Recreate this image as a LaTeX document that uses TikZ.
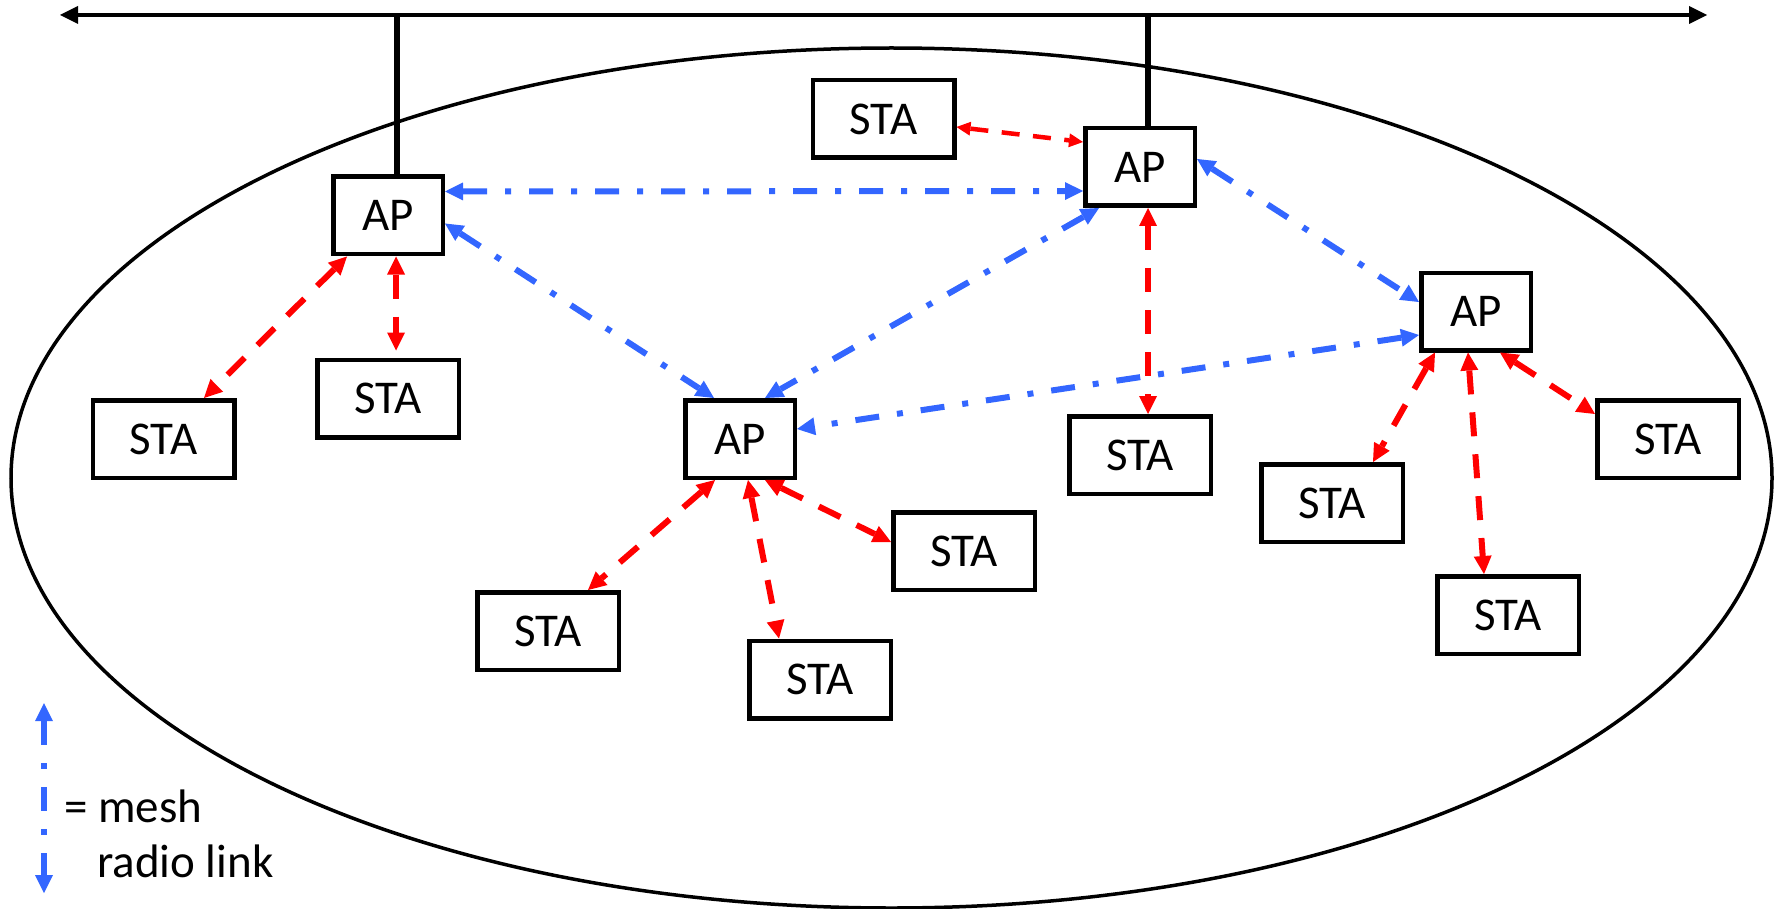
\documentclass[tikz,border=0pt]{standalone}
\usepackage{fontspec}
\setmainfont{Carlito}
\usetikzlibrary{arrows.meta,calc}
\definecolor{meshblue}{RGB}{51,102,255}
\definecolor{linkred}{RGB}{255,0,0}
\begin{document}
\begin{tikzpicture}[x=1pt,y=-1pt,
  every node/.style={font=\fontsize{47}{56}\selectfont},
  apbox/.style={draw,line width=4.5pt,minimum width=109.5pt,minimum height=77.5pt,inner sep=0pt},
  stabox/.style={draw,line width=4.5pt,minimum width=141.5pt,minimum height=77.5pt,inner sep=0pt},
  bus/.style={line width=4.5pt,{Triangle[length=18pt,width=18pt,line width=0pt]}-{Triangle[length=18pt,width=18pt,line width=0pt]}},
  uplink/.style={line width=5.5pt},
  meshlink/.style={meshblue,line width=6pt,dash pattern=on 24pt off 18pt on 6pt off 18pt,
    {Triangle[length=18pt,width=18pt,line width=0pt]}-{Triangle[length=18pt,width=18pt,line width=0pt]}},
  stalink/.style={linkred,line width=6pt,dash pattern=on 24pt off 18pt,
    {Triangle[length=18pt,width=18pt,line width=0pt]}-{Triangle[length=18pt,width=18pt,line width=0pt]}},
  thinlink/.style={linkred,line width=4.5pt,dash pattern=on 18pt off 13.5pt,
    {Triangle[length=14pt,width=14pt,line width=0pt]}-{Triangle[length=14pt,width=14pt,line width=0pt]}},
  legendtext/.style={anchor=base west,inner sep=0pt}
]
\useasboundingbox (0,0) rectangle (1779,909);

% coverage area
\draw[line width=3.5pt] (891.5,478) ellipse [x radius=880.5, y radius=430];

% wired backbone
\coordinate (busL) at (60,15);
\coordinate (busR) at (1707,15);
\coordinate (tapA) at (397,15);
\coordinate (tapB) at (1148,15);
\draw[bus] (busL) -- (busR);

% access points
\node[apbox] (AP1) at (388,215.5) {AP};
\node[apbox] (AP2) at (1140,167) {AP};
\node[apbox] (AP3) at (1476,311.5) {AP};
\node[apbox] (AP4) at (740,439) {AP};

% stations
\node[stabox] (STAt) at (883.5,119) {STA};
\node[stabox] (STAa) at (163.5,439) {STA};
\node[stabox] (STAb) at (388,398.5) {STA};
\node[stabox] (STAc) at (548,631) {STA};
\node[stabox] (STAd) at (820,679.5) {STA};
\node[stabox] (STAe) at (964,551) {STA};
\node[stabox] (STAf) at (1140,455) {STA};
\node[stabox] (STAg) at (1332,503) {STA};
\node[stabox] (STAh) at (1508,615) {STA};
\node[stabox] (STAi) at (1668,439) {STA};

% uplinks to the backbone
\draw[uplink] (tapA) -- (tapA |- AP1.north);
\draw[uplink] (tapB) -- (tapB |- AP2.north);

% mesh radio links between access points
\draw[meshlink] ($(AP1.east)+(0,-24)$) -- ($(AP2.west)+(0,24)$);
\draw[meshlink] ($(AP1.east)+(0,8)$) -- ($(AP4.north)+(-26,0)$);
\draw[meshlink] ($(AP2.south)+(-41,0)$) -- ($(AP4.north)+(25,0)$);
\draw[meshlink] ($(AP2.east)+(0,-8)$) -- ($(AP3.west)+(0,-9.5)$);
\draw[meshlink] ($(AP3.west)+(0,23.5)$) -- ($(AP4.east)+(0,-10)$);

% station links
\draw[thinlink] ($(STAt.east)+(0,8)$) -- ($(AP2.west)+(0,-25)$);
\draw[stalink] ($(AP1.south)+(-41,0)$) -- ($(STAa.north)+(40.5,0)$);
\draw[stalink] ($(AP1.south)+(8,0)$) -- ($(STAb.north)+(8,-7)$);
\draw[stalink] ($(AP2.south)+(8,0)$) -- ($(STAf.north)+(8,0)$);
\draw[stalink] ($(AP4.south)+(-25,0)$) -- ($(STAc.north)+(40,0)$);
\draw[stalink] ($(AP4.south)+(8,0)$) -- ($(STAd.north)+(-41,0)$);
\draw[stalink] ($(AP4.south)+(25,0)$) -- ($(STAe.west)+(0,-9)$);
\draw[stalink] ($(AP3.south)+(-41,0)$) -- ($(STAg.north)+(41,0)$);
\draw[stalink] ($(AP3.south)+(-8,0)$) -- ($(STAh.north)+(-24,0)$);
\draw[stalink] ($(AP3.south)+(24,0)$) -- ($(STAi.west)+(0,-25)$);

% legend
\coordinate (legTop) at (44,703);
\coordinate (legBot) at (44,893);
\draw[meshlink] (legTop) -- (legBot);
\node[legendtext] (legA) at (64,822) {= mesh};
\node[legendtext] (legB) at (97,877) {radio link};
\end{tikzpicture}
\end{document}
